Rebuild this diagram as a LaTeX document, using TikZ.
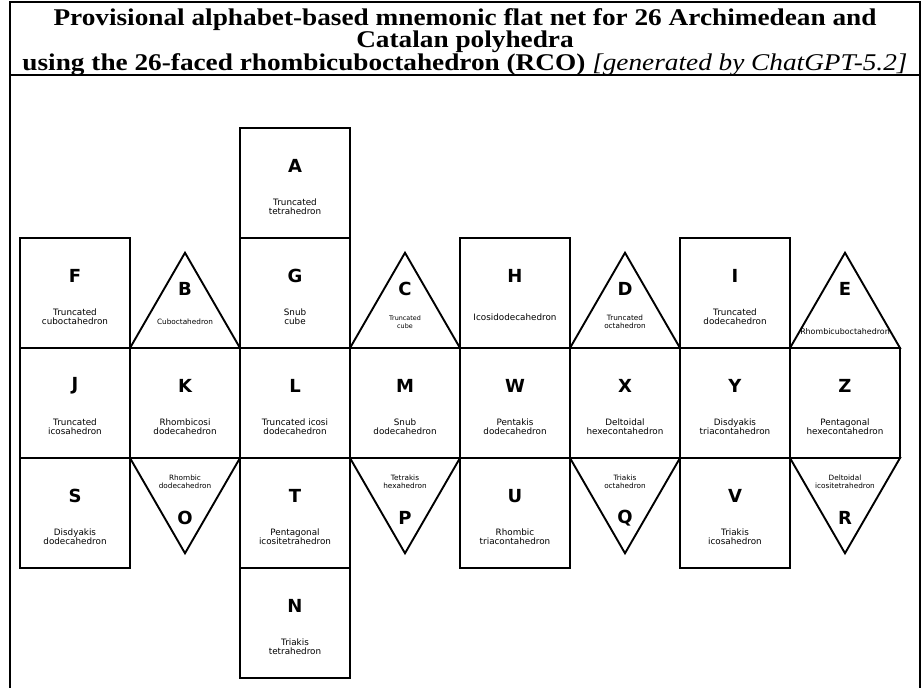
\documentclass[tikz,border=0pt]{standalone}
\usepackage{graphicx}
\usepackage{fontspec}
\setmainfont{Liberation Serif}
\newfontfamily\dvfont{DejaVu Sans}
\usetikzlibrary{calc}
\tikzset{
  face/.style={draw, line width=1.9pt, line join=miter},
  sq/.style={face, rectangle, minimum size=110pt, inner sep=0pt},
  letter/.style={font=\dvfont\bfseries\fontsize{18}{18}\selectfont, inner sep=0pt},
  lbl/.style={font=\dvfont\fontsize{8.8}{9}\selectfont, align=center, inner sep=0pt},
  tlbl/.style={font=\dvfont\fontsize{7.3}{8}\selectfont, align=center, inner sep=0pt},
  frame/.style={line width=2.6pt},
}
\newcommand{\wide}[1]{\scalebox{1.136}[1]{#1}}
\newcommand{\sqface}[5]{% name, x, y, letter, label
  \node[sq] (#1) at (#2,#3) {};
  \node[letter] (#1-l) at ($(#1)+(0,-17)$) {#4};
  \node[lbl] (#1-t) at ($(#1)+(0,24)$) {#5};
}
\newcommand{\uptri}[4]{% name, left x, letter, label
  \draw[face] (#2,348) -- ++(55,-95.26) -- ++(55,95.26) -- cycle;
  \node[letter] (#1-l) at (#2+55,289) {#3};
  \node[tlbl] (#1-t) at (#2+55,322) {#4};
}
\newcommand{\dntri}[4]{% name, left x, letter, label
  \draw[face] (#2,458) -- ++(55,95.26) -- ++(55,-95.26) -- cycle;
  \node[letter] (#1-l) at (#2+55,518) {#3};
  \node[tlbl] (#1-t) at (#2+55,482) {#4};
}
\begin{document}
\begin{tikzpicture}[x=1pt,y=-1pt]
\useasboundingbox (0,0) rectangle (922,688);
% frame
\draw[frame] (10,692) -- (10,2) -- (920,2) -- (920,692);
\draw[line width=1.2pt] (10,75) -- (920,75);
\node[font=\bfseries\fontsize{24}{22}\selectfont, align=center, inner sep=0pt] (title) at (465,42)
  {\wide{Provisional alphabet-based mnemonic flat net for 26 Archimedean and}\\
   \wide{Catalan polyhedra}\\
   \wide{using the 26-faced rhombicuboctahedron (RCO) {\mdseries\itshape [generated by ChatGPT-5.2]}}};
% top
\sqface{A}{295}{183}{A}{Truncated\\tetrahedron}
% row 1
\sqface{F}{75}{293}{F}{Truncated\\cuboctahedron}
\uptri{B}{130}{B}{Cuboctahedron}
\sqface{G}{295}{293}{G}{Snub\\cube}
\draw[face] (350,348) -- ++(55,-95.26) -- ++(55,95.26) -- cycle;
\node[letter] (C-l) at (405,289) {C};
\node[font=\dvfont\fontsize{6.4}{7.8}\selectfont, align=center, inner sep=0pt] (C-t) at (405,322) {Truncated\\cube};
\sqface{H}{515}{293}{H}{Icosidodecahedron}
\uptri{D}{570}{D}{Truncated\\octahedron}
\sqface{I}{735}{293}{I}{Truncated\\dodecahedron}
\node[letter] (E-l) at (845,289) {E};
\begin{scope}
  \clip (790,348) -- ++(55,-95.26) -- ++(55,95.26) -- cycle;
  \node[font=\dvfont\fontsize{7.9}{8}\selectfont, inner sep=0pt] (E-t) at (845,332) {Rhombicuboctahedron};
\end{scope}
\draw[face] (790,348) -- ++(55,-95.26) -- ++(55,95.26) -- cycle;
% row 2
\sqface{J}{75}{403}{J}{Truncated\\icosahedron}
\sqface{K}{185}{403}{K}{Rhombicosi\\dodecahedron}
\sqface{L}{295}{403}{L}{Truncated icosi\\dodecahedron}
\sqface{M}{405}{403}{M}{Snub\\dodecahedron}
\sqface{W}{515}{403}{W}{Pentakis\\dodecahedron}
\sqface{X}{625}{403}{X}{Deltoidal\\hexecontahedron}
\sqface{Y}{735}{403}{Y}{Disdyakis\\triacontahedron}
\sqface{Z}{845}{403}{Z}{Pentagonal\\hexecontahedron}
% row 3
\sqface{S}{75}{513}{S}{Disdyakis\\dodecahedron}
\dntri{O}{130}{O}{Rhombic\\dodecahedron}
\sqface{T}{295}{513}{T}{Pentagonal\\icositetrahedron}
\dntri{P}{350}{P}{Tetrakis\\hexahedron}
\sqface{U}{515}{513}{U}{Rhombic\\triacontahedron}
\dntri{Q}{570}{Q}{Triakis\\octahedron}
\sqface{V}{735}{513}{V}{Triakis\\icosahedron}
\dntri{R}{790}{R}{Deltoidal\\icositetrahedron}
% bottom
\sqface{N}{295}{623}{N}{Triakis\\tetrahedron}
\end{tikzpicture}
\end{document}
